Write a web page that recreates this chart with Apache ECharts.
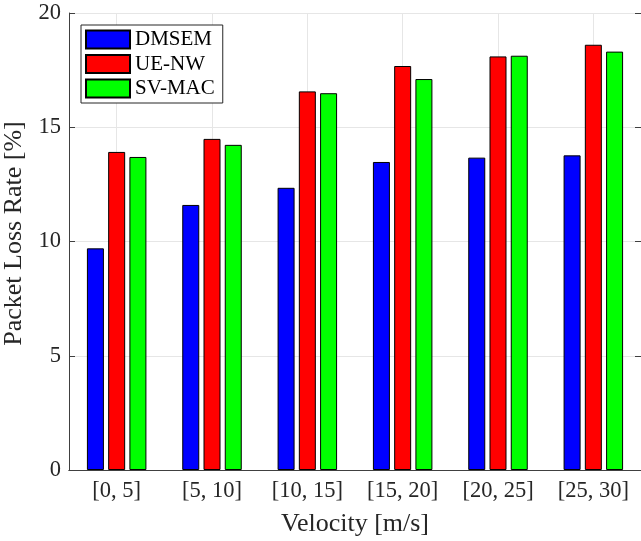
<!DOCTYPE html>
<html>
<head>
<meta charset="utf-8">
<script src="https://cdn.jsdelivr.net/npm/echarts@6/dist/echarts.min.js"></script>
<style>
  html, body { margin: 0; padding: 0; background: #fff; overflow: hidden; }
  #chart { width: 641px; height: 541px; }
</style>
</head>
<body>
<div id="chart"></div>
<script>
// Velocity bins and packet loss rates (%) per scheme
const categories = ['[0, 5]', '[5, 10]', '[10, 15]', '[15, 20]', '[20, 25]', '[25, 30]'];
const dmsem = [9.7, 11.6, 12.35, 13.48, 13.67, 13.77];
const ueNw  = [13.92, 14.49, 16.57, 17.68, 18.10, 18.61];
const svMac = [13.70, 14.23, 16.49, 17.11, 18.13, 18.31];
const yTicks = { min: 0, max: 20, interval: 5 };

const FONT = '"Liberation Serif", "Times New Roman", serif';
const TEXT = '#262626';
const AXIS = '#404040';
const GRIDC = '#e6e6e6';

const chart = echarts.init(document.getElementById('chart'), null, { renderer: 'canvas' });

function barSeries(name, data, color) {
  return {
    name: name,
    type: 'bar',
    data: data,
    barWidth: 17,
    barGap: '25%',
    itemStyle: { color: color, borderColor: '#000', borderWidth: 1 },
    xAxisIndex: 0,
    yAxisIndex: 0
  };
}

chart.setOption({
  backgroundColor: '#fff',
  animation: false,
  textStyle: { fontFamily: FONT },
  grid: {
    left: 69, right: 0, top: 13, bottom: 71,
    containLabel: false,
    outerBoundsMode: 'none'
  },
  legend: {
    left: 81, top: 25,
    orient: 'vertical',
    icon: 'rect',
    itemWidth: 44, itemHeight: 18, itemGap: 3.5,
    padding: [4, 8, 4, 4],
    borderColor: '#262626', borderWidth: 1,
    backgroundColor: '#fff',
    textStyle: { fontFamily: FONT, fontSize: 21, color: '#000' },
    data: ['DMSEM', 'UE-NW', 'SV-MAC']
  },
  xAxis: [
    {
      type: 'category',
      data: categories,
      position: 'bottom',
      name: 'Velocity [m/s]',
      nameLocation: 'middle',
      nameGap: 41,
      nameTextStyle: { fontFamily: FONT, fontSize: 26, color: TEXT },
      axisLine: { lineStyle: { color: AXIS, width: 1 } },
      axisTick: { inside: true, alignWithLabel: true, length: 6, lineStyle: { color: AXIS } },
      axisLabel: { fontFamily: FONT, fontSize: 22.5, color: TEXT, margin: 10 },
      splitLine: { show: true, alignWithLabel: true, lineStyle: { color: GRIDC, width: 1 } }
    },
    {
      type: 'category',
      data: categories,
      position: 'top',
      axisLine: { lineStyle: { color: AXIS, width: 1 } },
      axisTick: { inside: true, alignWithLabel: true, length: 6, lineStyle: { color: AXIS } },
      axisLabel: { show: false },
      splitLine: { show: false }
    }
  ],
  yAxis: [
    {
      type: 'value',
      min: yTicks.min, max: yTicks.max, interval: yTicks.interval,
      name: 'Packet Loss Rate [%]',
      nameLocation: 'middle',
      nameGap: 20,
      nameTextStyle: { fontFamily: FONT, fontSize: 26, color: TEXT, padding: [0, 0, 0, 16] },
      axisLine: { show: true, lineStyle: { color: AXIS, width: 1 } },
      axisTick: { show: true, inside: true, length: 6, lineStyle: { color: AXIS } },
      axisLabel: { fontFamily: FONT, fontSize: 22.5, color: TEXT, margin: 8 },
      splitLine: { show: true, lineStyle: { color: GRIDC, width: 1 } }
    },
    {
      type: 'value',
      position: 'right',
      min: yTicks.min, max: yTicks.max, interval: yTicks.interval,
      axisLine: { show: true, lineStyle: { color: AXIS, width: 1 } },
      axisTick: { show: true, inside: true, length: 6, lineStyle: { color: AXIS } },
      axisLabel: { show: false },
      splitLine: { show: false }
    }
  ],
  series: [
    barSeries('DMSEM', dmsem, '#0000ff'),
    barSeries('UE-NW', ueNw, '#ff0000'),
    barSeries('SV-MAC', svMac, '#00ff00')
  ]
});
</script>
</body>
</html>
